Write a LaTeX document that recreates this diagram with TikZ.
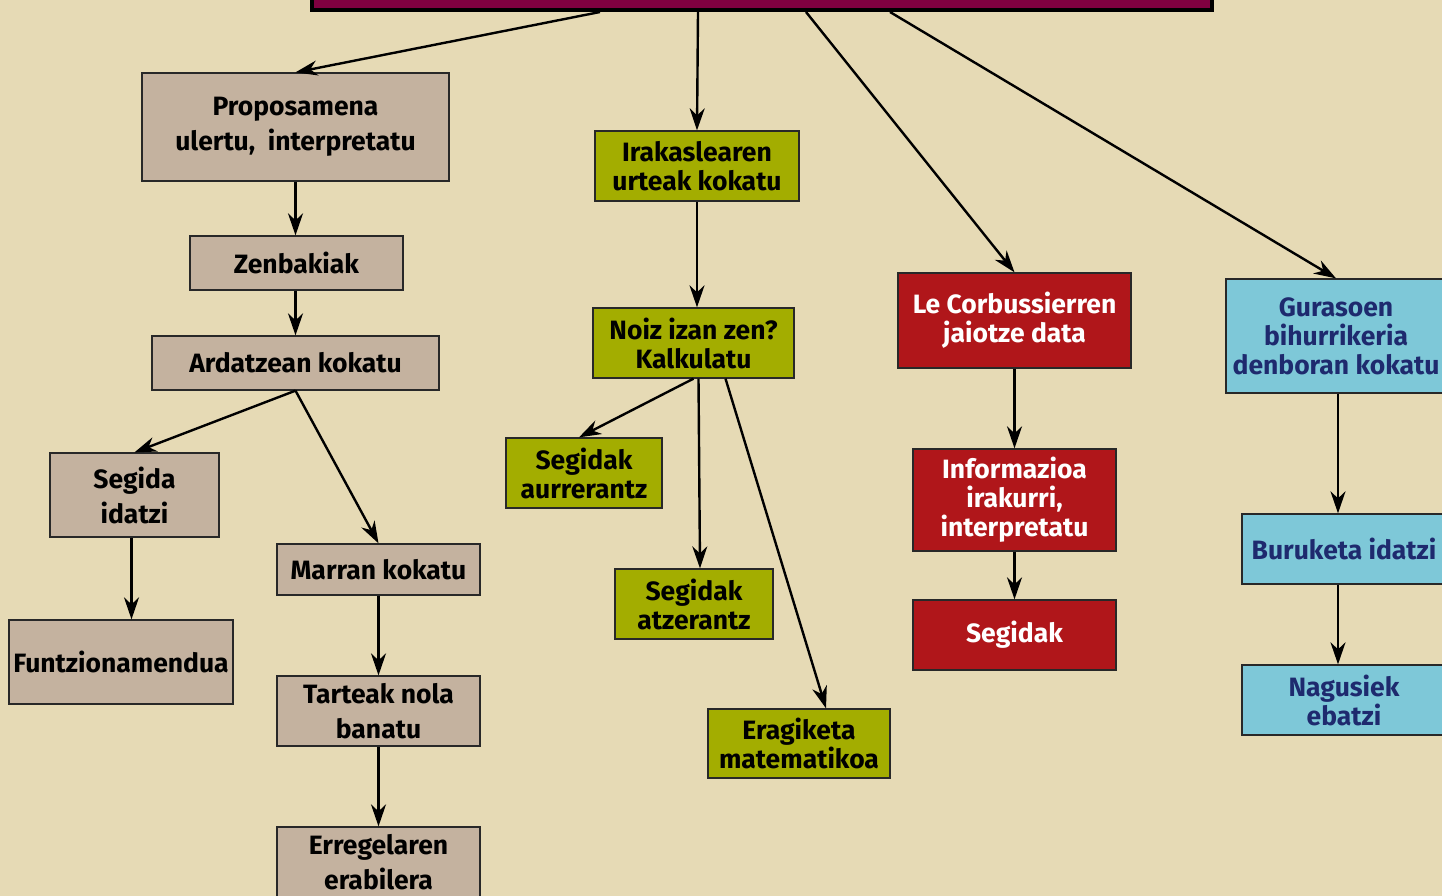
\documentclass[tikz,border=0pt]{standalone}
\usepackage{fontspec}
\setmainfont{Fira Sans}
\usetikzlibrary{arrows.meta}
\definecolor{bgc}{RGB}{230,218,181}
\definecolor{tanc}{RGB}{196,178,159}
\definecolor{greenc}{RGB}{163,173,0}
\definecolor{redc}{RGB}{176,22,26}
\definecolor{bluec}{RGB}{126,200,216}
\definecolor{navyc}{RGB}{30,42,110}
\definecolor{topc}{RGB}{128,0,64}
\definecolor{edgec}{RGB}{40,40,40}
\tikzset{
  box/.style={draw=edgec, line width=1.3pt, rectangle, inner sep=0pt, align=center,
    font=\fontsize{26.5}{35}\selectfont\bfseries},
  tanbox/.style={box, fill=tanc, text=black},
  greenbox/.style={box, fill=greenc, text=black, font=\fontsize{26.5}{29}\selectfont\bfseries},
  redbox/.style={box, fill=redc, text=white, font=\fontsize{26.5}{29}\selectfont\bfseries},
  bluebox/.style={box, fill=bluec, text=navyc, font=\fontsize{26.5}{29}\selectfont\bfseries},
  arr/.style={line width=2.4pt, -{Stealth[length=22pt,width=15pt,inset=7pt]}},
}
\begin{document}
\begin{tikzpicture}[x=1pt,y=-1pt]
\useasboundingbox (0,0) rectangle (1442,896);
\clip (0,0) rectangle (1442,896);
\fill[bgc] (0,0) rectangle (1442,896);

% top box
\node[draw=black, line width=4pt, fill=topc, minimum width=900pt, minimum height=40pt, inner sep=0pt] (top) at (762,-10) {};

% tan column
\node[tanbox, minimum width=307pt, minimum height=108pt] (prop) at (295.5,127) {Proposamena\\ulertu,\ \ interpretatu};
\node[tanbox, minimum width=213pt, minimum height=54pt] (zen) at (296.5,263) {Zenbakiak};
\node[tanbox, minimum width=287pt, minimum height=54pt] (ard) at (295.5,363) {Ardatzean kokatu};
\node[tanbox, minimum width=169pt, minimum height=84pt] (seg) at (134.5,495) {Segida\\idatzi};
\node[tanbox, minimum width=224pt, minimum height=84pt] (fun) at (121,662) {Funtzionamendua};
\node[tanbox, minimum width=203pt, minimum height=51pt] (mar) at (378.5,569.5) {Marran kokatu};
\node[tanbox, minimum width=203pt, minimum height=70pt] (tar) at (378.5,711) {Tarteak nola\\banatu};
\node[tanbox, minimum width=203pt, minimum height=70pt] (err) at (378.5,862) {Erregelaren\\erabilera};

% green column
\node[greenbox, minimum width=204pt, minimum height=70pt] (irak) at (697,166) {Irakaslearen\\urteak kokatu};
\node[greenbox, minimum width=201pt, minimum height=70pt] (noiz) at (693.5,343) {Noiz izan zen?\\Kalkulatu};
\node[greenbox, minimum width=156pt, minimum height=70pt] (aur) at (584,473) {Segidak\\aurrerantz};
\node[greenbox, minimum width=158pt, minimum height=70pt] (atz) at (694,604) {Segidak\\atzerantz};
\node[greenbox, minimum width=182pt, minimum height=69pt] (erag) at (799,743.5) {Eragiketa\\matematikoa};

% red column
\node[redbox, minimum width=233pt, minimum height=95pt] (lec) at (1014.5,320.5) {Le Corbussierren\\jaiotze data};
\node[redbox, minimum width=203pt, minimum height=102pt] (inf) at (1014.5,500) {Informazioa\\irakurri,\\interpretatu};
\node[redbox, minimum width=203pt, minimum height=70pt] (sgk) at (1014.5,635) {Segidak};

% blue column
\node[bluebox, minimum width=220pt, minimum height=114pt] (gur) at (1336,336) {Gurasoen\\bihurrikeria\\denboran kokatu};
\node[bluebox, minimum width=204pt, minimum height=70pt] (bur) at (1344,549) {Buruketa idatzi};
\node[bluebox, minimum width=204pt, minimum height=70pt] (nag) at (1344,700) {Nagusiek\\ebatzi};

% connectors from top
\draw[arr] ([xshift=-162pt]top.south) -- (prop.north);
\draw[arr] ([xshift=-64pt]top.south) -- (irak.north);
\draw[arr] ([xshift=44pt]top.south) -- (lec.north);
\draw[arr] ([xshift=128pt]top.south) -- (gur.north);

% tan connectors
\draw[arr] (prop.south) -- (prop.south |- zen.north);
\draw[arr] (prop.south |- zen.south) -- (prop.south |- ard.north);
\draw[arr] (ard.south) -- (seg.north);
\draw[arr] (ard.south) -- (mar.north);
\draw[arr] ([xshift=-3pt]seg.south) -- ([xshift=-3pt]seg.south |- fun.north);
\draw[arr] (mar.south) -- (tar.north);
\draw[arr] (tar.south) -- (err.north);

% green connectors
\draw[arr] (irak.south) -- (irak.south |- noiz.north);
\draw[arr] (noiz.south) -- ([xshift=-5pt]aur.north);
\draw[arr] ([xshift=5pt]noiz.south) -- ([xshift=6pt]atz.north);
\draw[arr] ([xshift=32pt]noiz.south) -- ([xshift=27pt]erag.north);

% red connectors
\draw[arr] (lec.south) -- (inf.north);
\draw[arr] (inf.south) -- (sgk.north);

% blue connectors
\draw[arr] ([xshift=2pt]gur.south) -- ([xshift=2pt]gur.south |- bur.north);
\draw[arr] ([xshift=2pt]gur.south |- bur.south) -- ([xshift=2pt]gur.south |- nag.north);
\end{tikzpicture}
\end{document}
